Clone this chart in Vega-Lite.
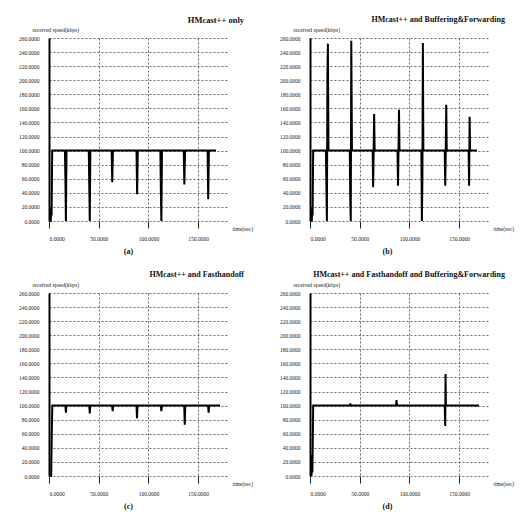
{
  "$schema": "https://vega.github.io/schema/vega-lite/v6.json",
  "background": "white",
  "padding": {"left": 18, "top": 15, "right": 5, "bottom": 3},
  "spacing": 15,
  "config": {
    "font": "Liberation Serif",
    "view": {"stroke": null},
    "axis": {
      "labelFont": "Liberation Serif",
      "labelFontSize": 5.5,
      "labelColor": "#222",
      "titleFont": "Liberation Serif",
      "titleFontSize": 5.5,
      "titleFontWeight": "normal",
      "titleColor": "#222",
      "gridColor": "#444",
      "gridDash": [2, 2],
      "gridWidth": 0.8,
      "gridOpacity": 1
    },
    "title": {"font": "Liberation Serif", "fontWeight": "bold", "color": "#111"}
  },
  "datasets": {
    "a": [
      {"t": 1.0, "v": 0}, {"t": 1.8, "v": 0}, {"t": 2.2, "v": 20}, {"t": 2.6, "v": 8}, {"t": 3.2, "v": 100},
      {"t": 16.0, "v": 100}, {"t": 16.5, "v": 60}, {"t": 17.0, "v": 0}, {"t": 17.6, "v": 100},
      {"t": 40.0, "v": 100}, {"t": 40.5, "v": 50}, {"t": 41.0, "v": 0}, {"t": 41.6, "v": 100},
      {"t": 63.0, "v": 100}, {"t": 63.6, "v": 55}, {"t": 64.3, "v": 100},
      {"t": 88.0, "v": 100}, {"t": 88.6, "v": 38}, {"t": 89.3, "v": 100},
      {"t": 112.0, "v": 100}, {"t": 112.5, "v": 40}, {"t": 113.0, "v": 0}, {"t": 113.6, "v": 100},
      {"t": 135.5, "v": 100}, {"t": 136.1, "v": 52}, {"t": 136.8, "v": 100},
      {"t": 159.5, "v": 100}, {"t": 160.1, "v": 31}, {"t": 160.8, "v": 100},
      {"t": 168.0, "v": 100}
    ],
    "b": [
      {"t": 1.0, "v": 0}, {"t": 1.8, "v": 0}, {"t": 2.2, "v": 20}, {"t": 2.6, "v": 8}, {"t": 3.2, "v": 100},
      {"t": 16.0, "v": 100}, {"t": 16.5, "v": 50}, {"t": 17.0, "v": 0}, {"t": 17.5, "v": 205}, {"t": 18.0, "v": 252}, {"t": 18.6, "v": 100},
      {"t": 40.0, "v": 100}, {"t": 40.5, "v": 30}, {"t": 41.0, "v": 0}, {"t": 41.5, "v": 256}, {"t": 42.2, "v": 100},
      {"t": 63.0, "v": 100}, {"t": 63.5, "v": 48}, {"t": 64.0, "v": 100}, {"t": 64.5, "v": 152}, {"t": 65.0, "v": 100},
      {"t": 88.0, "v": 100}, {"t": 88.5, "v": 50}, {"t": 89.0, "v": 100}, {"t": 89.5, "v": 158}, {"t": 90.0, "v": 100},
      {"t": 112.0, "v": 100}, {"t": 112.5, "v": 0}, {"t": 113.0, "v": 55}, {"t": 113.5, "v": 253}, {"t": 114.0, "v": 100},
      {"t": 135.5, "v": 100}, {"t": 136.0, "v": 50}, {"t": 136.5, "v": 100}, {"t": 137.0, "v": 165}, {"t": 137.5, "v": 100},
      {"t": 159.5, "v": 100}, {"t": 160.0, "v": 50}, {"t": 160.5, "v": 148}, {"t": 161.0, "v": 100},
      {"t": 168.0, "v": 100}
    ],
    "c": [
      {"t": 1.5, "v": 0}, {"t": 2.2, "v": 0}, {"t": 2.8, "v": 60}, {"t": 3.3, "v": 100},
      {"t": 16.5, "v": 100}, {"t": 17.0, "v": 90}, {"t": 17.5, "v": 100},
      {"t": 40.5, "v": 100}, {"t": 41.0, "v": 89}, {"t": 41.5, "v": 100},
      {"t": 63.5, "v": 100}, {"t": 64.0, "v": 92}, {"t": 64.5, "v": 100},
      {"t": 88.0, "v": 100}, {"t": 88.5, "v": 82}, {"t": 89.0, "v": 100},
      {"t": 112.5, "v": 100}, {"t": 113.0, "v": 92}, {"t": 113.5, "v": 100},
      {"t": 136.0, "v": 100}, {"t": 136.5, "v": 73}, {"t": 137.0, "v": 100},
      {"t": 160.0, "v": 100}, {"t": 160.5, "v": 90}, {"t": 161.0, "v": 100},
      {"t": 172.0, "v": 100}
    ],
    "d": [
      {"t": 1.5, "v": 0}, {"t": 2.0, "v": 30}, {"t": 2.4, "v": 5}, {"t": 2.8, "v": 50}, {"t": 3.2, "v": 100},
      {"t": 40.0, "v": 100}, {"t": 40.5, "v": 103}, {"t": 41.0, "v": 100},
      {"t": 86.5, "v": 100}, {"t": 87.0, "v": 108}, {"t": 87.5, "v": 100},
      {"t": 135.5, "v": 100}, {"t": 136.0, "v": 71}, {"t": 136.3, "v": 145}, {"t": 136.7, "v": 100},
      {"t": 170.0, "v": 100}
    ]
  },
  "vconcat": [
    {
      "spacing": 26,
      "hconcat": [
        {
          "title": {"text": "(a)", "orient": "bottom", "anchor": "middle", "fontSize": 8, "fontWeight": "bold", "offset": 6, "dx": -7},
          "vconcat": [
            {
              "width": 179, "height": 183,
              "title": {"text": "HMcast++ only", "anchor": "end", "frame": "group", "fontSize": 8.5, "offset": 3, "dx": 16},
              "data": {"name": "a"},
              "mark": {"type": "line", "color": "black", "strokeWidth": 2},
              "encoding": {
                "x": {"field": "t", "type": "quantitative", "scale": {"domain": [0, 180], "nice": false},
                      "axis": {"values": [0, 50, 100, 150], "format": ".4f", "domain": false, "tickColor": "#222", "tickSize": 7, "labelPadding": 8,
                               "title": "time(sec)", "titleX": 183, "titleY": 7, "titleAlign": "left", "titleBaseline": "middle"}},
                "y": {"field": "v", "type": "quantitative", "scale": {"domain": [0, 260], "nice": false},
                      "axis": {"values": [0, 20, 40, 60, 80, 100, 120, 140, 160, 180, 200, 220, 240, 260], "format": ".4f", "domain": true, "domainWidth": 2, "domainColor": "black", "ticks": false, "labelPadding": 10,
                               "title": "received speed(kbps)", "titleAngle": 0, "titleX": -17, "titleY": -6, "titleAlign": "left", "titleBaseline": "bottom"}}
              }
            }
          ]
        },
        {
          "title": {"text": "(b)", "orient": "bottom", "anchor": "middle", "fontSize": 8, "fontWeight": "bold", "offset": 6, "dx": -9},
          "vconcat": [
            {
              "width": 179, "height": 183,
              "title": {"text": "HMcast++ and Buffering&Forwarding", "anchor": "end", "frame": "group", "fontSize": 8, "offset": 3, "dx": 16},
              "data": {"name": "b"},
              "mark": {"type": "line", "color": "black", "strokeWidth": 2},
              "encoding": {
                "x": {"field": "t", "type": "quantitative", "scale": {"domain": [0, 180], "nice": false},
                      "axis": {"values": [0, 50, 100, 150], "format": ".4f", "domain": false, "tickColor": "#222", "tickSize": 7, "labelPadding": 8,
                               "title": "time(sec)", "titleX": 183, "titleY": 7, "titleAlign": "left", "titleBaseline": "middle"}},
                "y": {"field": "v", "type": "quantitative", "scale": {"domain": [0, 260], "nice": false},
                      "axis": {"values": [0, 20, 40, 60, 80, 100, 120, 140, 160, 180, 200, 220, 240, 260], "format": ".4f", "domain": true, "domainWidth": 2, "domainColor": "black", "ticks": false, "labelPadding": 10,
                               "title": "received speed(kbps)", "titleAngle": 0, "titleX": -17, "titleY": -6, "titleAlign": "left", "titleBaseline": "bottom"}}
              }
            }
          ]
        }
      ]
    },
    {
      "spacing": 26,
      "hconcat": [
        {
          "title": {"text": "(c)", "orient": "bottom", "anchor": "middle", "fontSize": 8, "fontWeight": "bold", "offset": 6, "dx": -7},
          "vconcat": [
            {
              "width": 179, "height": 183,
              "title": {"text": "HMcast++ and Fasthandoff", "anchor": "end", "frame": "group", "fontSize": 8, "offset": 3, "dx": 16},
              "data": {"name": "c"},
              "mark": {"type": "line", "color": "black", "strokeWidth": 2},
              "encoding": {
                "x": {"field": "t", "type": "quantitative", "scale": {"domain": [0, 180], "nice": false},
                      "axis": {"values": [0, 50, 100, 150], "format": ".4f", "domain": false, "tickColor": "#222", "tickSize": 7, "labelPadding": 8,
                               "title": "time(sec)", "titleX": 183, "titleY": 7, "titleAlign": "left", "titleBaseline": "middle"}},
                "y": {"field": "v", "type": "quantitative", "scale": {"domain": [0, 260], "nice": false},
                      "axis": {"values": [0, 20, 40, 60, 80, 100, 120, 140, 160, 180, 200, 220, 240, 260], "format": ".4f", "domain": true, "domainWidth": 2, "domainColor": "black", "ticks": false, "labelPadding": 10,
                               "title": "received speed(kbps)", "titleAngle": 0, "titleX": -17, "titleY": -6, "titleAlign": "left", "titleBaseline": "bottom"}}
              }
            }
          ]
        },
        {
          "title": {"text": "(d)", "orient": "bottom", "anchor": "middle", "fontSize": 8, "fontWeight": "bold", "offset": 6, "dx": -9},
          "vconcat": [
            {
              "width": 179, "height": 183,
              "title": {"text": "HMcast++ and Fasthandoff and Buffering&Forwarding", "anchor": "end", "frame": "group", "fontSize": 8, "offset": 3, "dx": 16},
              "data": {"name": "d"},
              "mark": {"type": "line", "color": "black", "strokeWidth": 2},
              "encoding": {
                "x": {"field": "t", "type": "quantitative", "scale": {"domain": [0, 180], "nice": false},
                      "axis": {"values": [0, 50, 100, 150], "format": ".4f", "domain": false, "tickColor": "#222", "tickSize": 7, "labelPadding": 8,
                               "title": "time(sec)", "titleX": 183, "titleY": 7, "titleAlign": "left", "titleBaseline": "middle"}},
                "y": {"field": "v", "type": "quantitative", "scale": {"domain": [0, 260], "nice": false},
                      "axis": {"values": [0, 20, 40, 60, 80, 100, 120, 140, 160, 180, 200, 220, 240, 260], "format": ".4f", "domain": true, "domainWidth": 2, "domainColor": "black", "ticks": false, "labelPadding": 10,
                               "title": "received speed(kbps)", "titleAngle": 0, "titleX": -17, "titleY": -6, "titleAlign": "left", "titleBaseline": "bottom"}}
              }
            }
          ]
        }
      ]
    }
  ]
}
